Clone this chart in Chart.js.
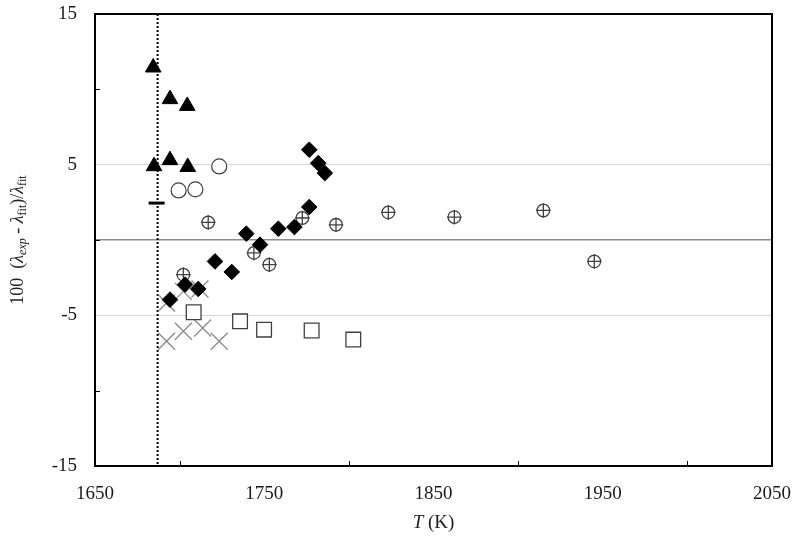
<!DOCTYPE html>
<html><head><meta charset="utf-8">
<script src="https://cdn.jsdelivr.net/npm/chart.js@4"></script>
<style>html,body{margin:0;padding:0;background:#fff}#wrap{width:800px;height:547px}</style>
</head><body><div id="wrap"><canvas id="c" width="800" height="547"></canvas></div>
<script>
// Data (T in K, deviation in %)
const triT = [1684.4, 1694.3, 1704.5, 1684.9, 1694.3, 1704.8];
const triV = [11.45, 9.35, 8.9, 4.9, 5.3, 4.85];
const circT = [1723.4, 1699.4, 1709.3];
const circV = [4.88, 3.29, 3.36];
const dashT = [1686.4];
const dashV = [2.45];
const xcT = [1716.9, 1772.5, 1792.4, 1823.3, 1862.3, 1914.9, 1743.9, 1753.0, 1702.2, 1945.0];
const xcV = [1.17, 1.46, 1.01, 1.83, 1.52, 1.96, -0.86, -1.64, -2.3, -1.42];
const diaT = [1694.3, 1703.2, 1711.0, 1720.9, 1730.8, 1739.4, 1747.5, 1758.3, 1767.8, 1776.6, 1776.6, 1781.9, 1785.8];
const diaV = [-3.96, -2.96, -3.25, -1.42, -2.12, 0.42, -0.31, 0.75, 0.86, 2.19, 5.99, 5.1, 4.44];
const crossT = [1692.3, 1702.2, 1712.0, 1692.3, 1702.2, 1713.6, 1723.4];
const crossV = [-4.18, -3.41, -3.25, -6.72, -6.06, -5.84, -6.72];
const sqT = [1708.3, 1735.7, 1749.9, 1778.0, 1802.6];
const sqV = [-4.8, -5.4, -5.95, -6.01, -6.61];
const meltT = 1687;
const xMin = 1650, xMax = 2050, xStep = 50;
const yMin = -15, yMax = 15, yStep = 5;
const xLabels = [1650, 1750, 1850, 1950, 2050];
const yLabels = [15, 5, -5, -15];
const xMinorTicks = [1700, 1800, 1900, 2000];
const yMinorTicks = [10, 0, -10];

const pts = (xs, ys) => xs.map((x, i) => ({x: x, y: ys[i]}));
const SERIF = '"Liberation Serif", "Times New Roman", serif';

function drawRich(ctx, segs, size) {
  let total = 0;
  const parts = segs.map(s => {
    const fs = s.sub ? Math.round(size * 0.68) : size;
    const f = (s.it ? 'italic ' : '') + fs + 'px ' + SERIF;
    ctx.font = f;
    const w = ctx.measureText(s.t).width;
    total += w;
    return {t: s.t, f: f, w: w, dy: s.sub ? size * 0.28 : 0};
  });
  let x = -total / 2;
  ctx.textBaseline = 'middle';
  ctx.textAlign = 'left';
  parts.forEach(p => { ctx.font = p.f; ctx.fillText(p.t, x, p.dy); x += p.w; });
}

const deco = {
  id: 'deco',
  beforeDatasetsDraw(chart) {
    const {ctx, chartArea: a, scales: {x, y}} = chart;
    ctx.save();
    const mx = x.getPixelForValue(meltT);
    ctx.strokeStyle = '#000';
    ctx.lineWidth = 2;
    ctx.setLineDash([2, 2]);
    ctx.beginPath(); ctx.moveTo(mx, a.top); ctx.lineTo(mx, a.bottom); ctx.stroke();
    ctx.restore();
  },
  afterDraw(chart) {
    const {ctx, chartArea: a, scales: {x, y}} = chart;
    ctx.save();
    ctx.strokeStyle = '#000';
    ctx.lineWidth = 2;
    ctx.strokeRect(a.left, a.top, a.right - a.left, a.bottom - a.top);
    ctx.lineWidth = 1;
    ctx.beginPath();
    xMinorTicks.forEach(v => { const px = Math.round(x.getPixelForValue(v)) + 0.5; ctx.moveTo(px, a.bottom); ctx.lineTo(px, a.bottom - 5); });
    yMinorTicks.forEach(v => { const py = Math.round(y.getPixelForValue(v)) + 0.5; ctx.moveTo(a.left, py); ctx.lineTo(a.left + 5, py); });
    ctx.stroke();
    ctx.fillStyle = '#222';
    ctx.save();
    ctx.translate((a.left + a.right) / 2, 523);
    drawRich(ctx, [{t: 'T', it: true}, {t: ' (K)'}], 19);
    ctx.restore();
    ctx.save();
    ctx.translate(18, (a.top + a.bottom) / 2);
    ctx.rotate(-Math.PI / 2);
    drawRich(ctx, [
      {t: '100  ('}, {t: 'λ', it: true}, {t: 'exp', it: true, sub: true},
      {t: ' - '}, {t: 'λ', it: true}, {t: 'fit', sub: true},
      {t: ')/'}, {t: 'λ', it: true}, {t: 'fit', sub: true}
    ], 18);
    ctx.restore();
    ctx.restore();
  }
};

new Chart(document.getElementById('c'), {
  type: 'scatter',
  data: {
    datasets: [
      {label: 'tri', data: pts(triT, triV), pointStyle: 'triangle', pointRadius: 9, backgroundColor: '#000', borderColor: '#000', borderWidth: 1, order: 1},
      {label: 'circ', data: pts(circT, circV), pointStyle: 'circle', pointRadius: 7.5, backgroundColor: '#fff', borderColor: '#404040', borderWidth: 1.2, order: 2},
      {label: 'dash', data: pts(dashT, dashV), pointStyle: 'line', pointRadius: 8, borderColor: '#000', borderWidth: 3, order: 3},
      {label: 'dia', data: pts(diaT, diaV), pointStyle: 'rectRot', pointRadius: 7.8, backgroundColor: '#000', borderColor: '#000', borderWidth: 1, order: 4},
      {label: 'xc-cross', data: pts(xcT, xcV), pointStyle: 'cross', pointRadius: 7.3, borderColor: '#404040', borderWidth: 1.3, order: 5},
      {label: 'xc-circ', data: pts(xcT, xcV), pointStyle: 'circle', pointRadius: 6.3, backgroundColor: 'rgba(255,255,255,0)', borderColor: '#404040', borderWidth: 1.3, order: 6},
      {label: 'sq', data: pts(sqT, sqV), pointStyle: 'rect', pointRadius: 10.4, backgroundColor: '#fff', borderColor: '#404040', borderWidth: 1.3, order: 7},
      {label: 'cross', data: pts(crossT, crossV), pointStyle: 'crossRot', pointRadius: 12, borderColor: '#8a8a8a', borderWidth: 1.3, order: 8}
    ]
  },
  options: {
    animation: false,
    responsive: false,
    events: [],
    layout: {padding: {left: 0, top: 14, right: 28, bottom: 0}},
    plugins: {legend: {display: false}, tooltip: {enabled: false}},
    scales: {
      x: {
        type: 'linear', min: xMin, max: xMax,
        afterFit: s => { s.height = 81; s.paddingLeft = 0; s.paddingRight = 0; },
        grid: {display: false, drawTicks: false},
        border: {display: false},
        ticks: {stepSize: xStep, padding: 17, color: '#1a1a1a', font: {family: SERIF, size: 19},
          callback: v => xLabels.includes(v) ? String(v) : '', maxRotation: 0, autoSkip: false}
      },
      y: {
        type: 'linear', min: yMin, max: yMax,
        afterFit: s => { s.width = 95; s.paddingTop = 0; s.paddingBottom = 0; },
        grid: {drawTicks: false,
          color: c => (c.tick.value === 0 ? '#8c8c8c' : (Math.abs(c.tick.value) === 5 ? '#d4d4d4' : 'rgba(0,0,0,0)')),
          lineWidth: c => (c.tick.value === 0 ? 1.5 : 1)},
        border: {display: false},
        ticks: {stepSize: yStep, padding: 18, color: '#1a1a1a', font: {family: SERIF, size: 19},
          callback: v => yLabels.includes(v) ? String(v) : '', autoSkip: false}
      }
    }
  },
  plugins: [deco]
});
</script></body></html>
